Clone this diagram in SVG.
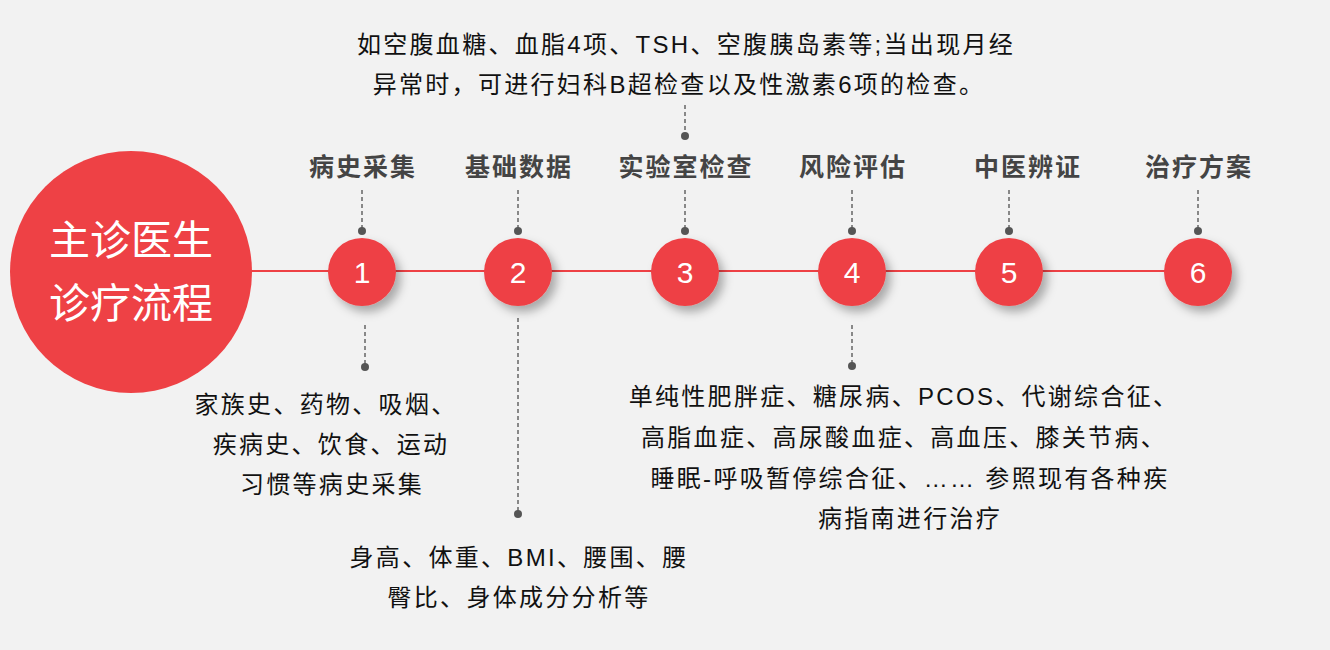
<svg xmlns="http://www.w3.org/2000/svg" width="1330" height="650" viewBox="0 0 1330 650">
<defs>
<filter id="sh" x="-50%" y="-50%" width="200%" height="200%"><feDropShadow dx="5" dy="6" stdDeviation="5" flood-color="#000" flood-opacity="0.3"/></filter>
<style>
text{font-family:"Liberation Sans","Noto Sans CJK SC",sans-serif}
.num{font-size:30px;fill:#fff;text-anchor:middle}
.ttl{font-size:25px;font-weight:bold;fill:#444;text-anchor:middle;letter-spacing:2px}
.desc{font-size:24px;fill:#111;text-anchor:middle;letter-spacing:2.3px}
.dash{stroke:#666;stroke-width:1.5;stroke-dasharray:4 3;fill:none}
.dot{fill:#555}
.c{fill:#ee4145;filter:url(#sh)}
</style>
</defs>
<rect width="1330" height="650" fill="#f2f2f2"/>
<g id="connectors">
<line x1="131" y1="271" x2="1198" y2="271" stroke="#ee4145" stroke-width="2"/>
<line class="dash" x1="362" y1="190" x2="362" y2="231"/><circle class="dot" cx="362" cy="231" r="4"/>
<line class="dash" x1="518" y1="190" x2="518" y2="231"/><circle class="dot" cx="518" cy="231" r="4"/>
<line class="dash" x1="685" y1="190" x2="685" y2="231"/><circle class="dot" cx="685" cy="231" r="4"/>
<line class="dash" x1="852" y1="190" x2="852" y2="231"/><circle class="dot" cx="852" cy="231" r="4"/>
<line class="dash" x1="1009" y1="190" x2="1009" y2="231"/><circle class="dot" cx="1009" cy="231" r="4"/>
<line class="dash" x1="1198" y1="190" x2="1198" y2="231"/><circle class="dot" cx="1198" cy="231" r="4"/>
<line class="dash" x1="685" y1="105" x2="685" y2="136"/><circle class="dot" cx="685" cy="136" r="4"/>
<line class="dash" x1="365" y1="325" x2="365" y2="367"/><circle class="dot" cx="365" cy="367" r="4"/>
<line class="dash" x1="518" y1="318" x2="518" y2="514"/><circle class="dot" cx="518" cy="514" r="4"/>
<line class="dash" x1="852" y1="325" x2="852" y2="366"/><circle class="dot" cx="852" cy="366" r="4"/>
</g>
<g id="main"><circle cx="131" cy="272" r="121" fill="#ee4145"/>
<text x="131" y="255" font-size="41" fill="#fff" text-anchor="middle">主诊医生</text>
<text x="131" y="318" font-size="41" fill="#fff" text-anchor="middle">诊疗流程</text></g>
<g id="n1"><circle class="c" cx="362" cy="272" r="34"/><text class="num" x="362" y="283">1</text><text class="ttl" x="363" y="176">病史采集</text>
<text class="desc" x="326" y="413">家族史、药物、吸烟、</text><text class="desc" x="331" y="453">疾病史、饮食、运动</text><text class="desc" x="332" y="493">习惯等病史采集</text></g>
<g id="n2"><circle class="c" cx="518" cy="272" r="34"/><text class="num" x="518" y="283">2</text><text class="ttl" x="519" y="176">基础数据</text>
<text class="desc" x="519" y="566">身高、体重、BMI、腰围、腰</text><text class="desc" x="519" y="606">臀比、身体成分分析等</text></g>
<g id="n3"><circle class="c" cx="685" cy="272" r="34"/><text class="num" x="685" y="283">3</text><text class="ttl" x="686" y="176">实验室检查</text>
<text class="desc" x="686" y="53">如空腹血糖、血脂4项、TSH、空腹胰岛素等;当出现月经</text><text class="desc" x="679" y="93">异常时，可进行妇科B超检查以及性激素6项的检查。</text></g>
<g id="n4"><circle class="c" cx="852" cy="272" r="34"/><text class="num" x="852" y="283">4</text><text class="ttl" x="853" y="176">风险评估</text>
<text class="desc" x="904" y="405">单纯性肥胖症、糖尿病、PCOS、代谢综合征、</text><text class="desc" x="904" y="446">高脂血症、高尿酸血症、高血压、膝关节病、</text><text class="desc" x="910" y="487">睡眠-呼吸暂停综合征、……  参照现有各种疾</text><text class="desc" x="910" y="527">病指南进行治疗</text></g>
<g id="n5"><circle class="c" cx="1009" cy="272" r="34"/><text class="num" x="1009" y="283">5</text><text class="ttl" x="1028" y="176">中医辨证</text></g>
<g id="n6"><circle class="c" cx="1198" cy="272" r="34"/><text class="num" x="1198" y="283">6</text><text class="ttl" x="1199" y="176">治疗方案</text></g>
</svg>
